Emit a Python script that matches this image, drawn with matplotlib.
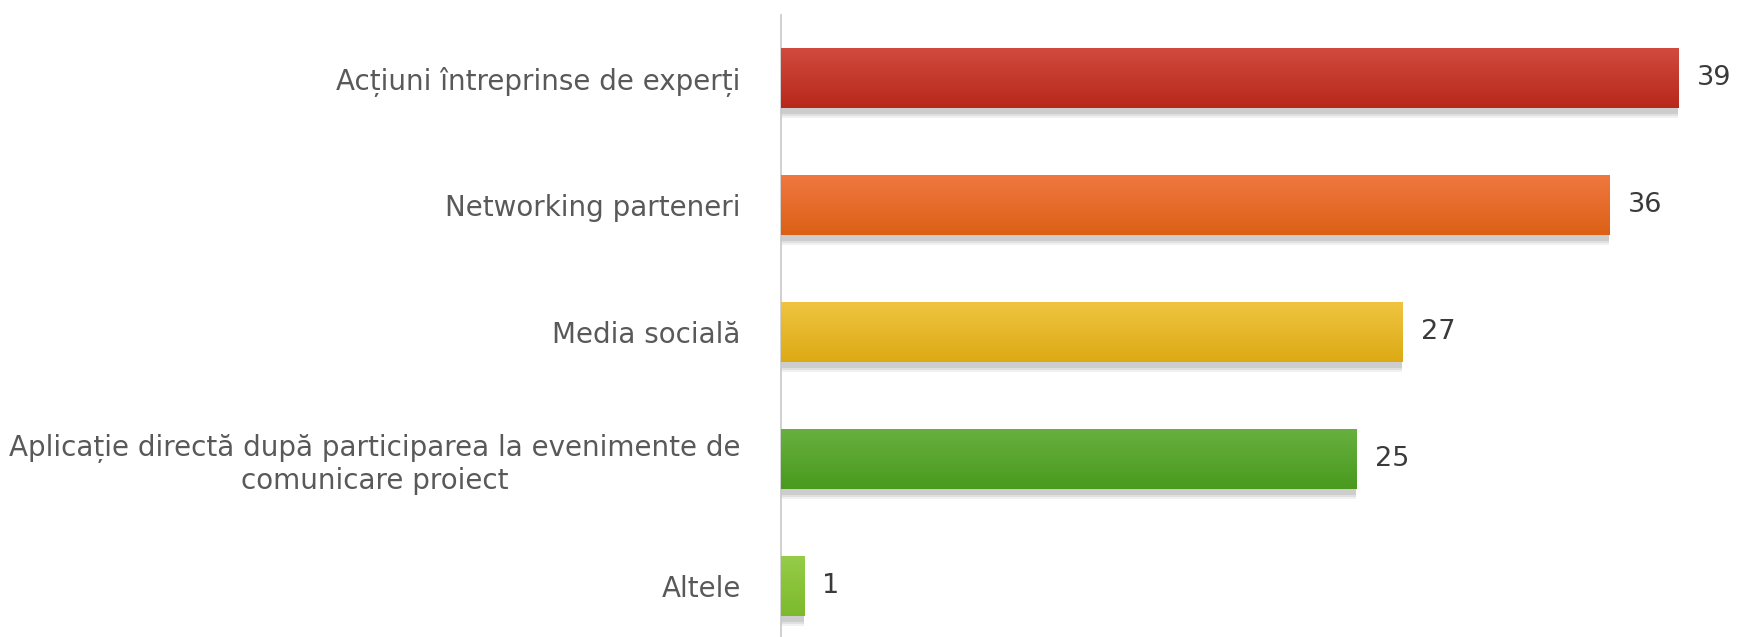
import matplotlib.pyplot as plt
import numpy as np
from matplotlib.colors import LinearSegmentedColormap

categories = ['Acțiuni întreprinse de experți',
              'Networking parteneri',
              'Media socială',
              'Aplicație directă după participarea la evenimente de\ncomunicare proiect',
              'Altele']
values = [39, 36, 27, 25, 1]
# top / bottom colours of each bar's gradient
top_colors = ['#d14a3e', '#ef7840', '#f0c440', '#67b040', '#96cc48']
bottom_colors = ['#b8281a', '#dc6015', '#dcaa14', '#4a9a1e', '#7cba2c']

plt.rcParams['font.family'] = ['DejaVu Sans']

fig = plt.figure(figsize=(17.4, 6.37), dpi=100)
ax = fig.add_axes([0.4489, 0.0, 0.542, 0.977])

y = np.arange(len(categories))
bar_h = 0.47

# soft shadow under the bars
for k, a in zip([0.08, 0.065, 0.05], [0.10, 0.14, 0.18]):
    ax.barh(y + k, values, height=bar_h, color='#7a7a7a', alpha=a, zorder=1, linewidth=0)

bars = ax.barh(y, values, height=bar_h, color=bottom_colors, zorder=2, linewidth=0)

# vertical gradient inside each bar
for b, c1, c2 in zip(bars, top_colors, bottom_colors):
    cmap = LinearSegmentedColormap.from_list('g', [c1, c2])
    x0, y0 = b.get_x(), b.get_y()
    w, h = b.get_width(), b.get_height()
    grad = np.linspace(0, 1, 64).reshape(-1, 1)
    im = ax.imshow(grad, cmap=cmap, aspect='auto', extent=(x0, x0 + w, y0 + h, y0),
                   zorder=3, origin='upper')
    im.set_clip_path(b)

for yi, v in zip(y, values):
    ax.text(v + 0.8, yi, str(v), va='center', ha='left', fontsize=19.5, color='#3a3a3a')

ax.set_xlim(0, 41)
ax.set_ylim(4.40, -0.5)
ax.set_yticks(y)
ax.set_yticklabels(categories, fontsize=20, color='#595959', multialignment='center',
                   linespacing=1.2)
ax.tick_params(axis='y', length=0, pad=29)
ax.set_xticks([])
for s in ['top', 'right', 'bottom']:
    ax.spines[s].set_visible(False)
ax.spines['left'].set_color('#c8c8c8')
ax.spines['left'].set_linewidth(1.2)

fig.savefig('out.png', dpi=100)
